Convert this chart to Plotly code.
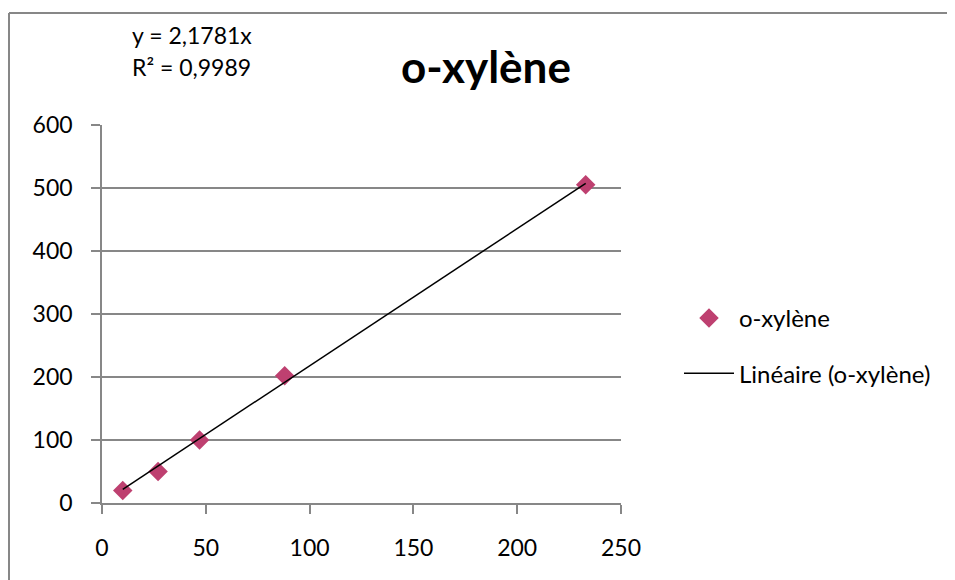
import plotly.graph_objects as go

# ---- data ----
x_vals = [10, 27, 47, 88, 233]
y_vals = [20, 50, 100, 202, 505]
slope = 2.1781
series_name = "o-xylène"
trend_name = "Linéaire (o-xylène)"
eq_text = "y = 2,1781x"
r2_text = "R² = 0,9989"
x_ticks = [0, 50, 100, 150, 200, 250]
y_ticks = [0, 100, 200, 300, 400, 500, 600]

# ---- layout geometry (screen pixels; page body adds an 8px offset) ----
OFF = 8
W, H = 955 - OFF, 580 - OFF
L, R, T, B = 102, 621, 125, 503


def px(x):
    return (x - L) / (R - L)


def py(y):
    return (B - y) / (B - T)


fit_x = [min(x_vals), max(x_vals)]
fit_y = [slope * v for v in fit_x]

FONT = "Lato"
GRAY = "#878787"

fig = go.Figure()
fig.add_trace(go.Scatter(
    x=x_vals, y=y_vals, mode="markers", name=series_name,
    marker=dict(symbol="diamond", size=15, color="#BE4070"),
    legendgroup="a",
))
fig.add_trace(go.Scatter(
    x=fit_x, y=fit_y, mode="lines", name=trend_name,
    line=dict(color="black", width=1.5),
    legendgroup="b",
))

border = dict(color=GRAY, width=2)
fig.update_layout(
    width=W, height=H,
    margin=dict(l=L - OFF, r=W - (R - OFF), t=T - OFF, b=H - (B - OFF), pad=0),
    paper_bgcolor="white", plot_bgcolor="white",
    font=dict(family=FONT, size=23, color="black"),
    showlegend=True,
    legend=dict(
        x=px(679), y=py(296), xanchor="left", yanchor="top",
        traceorder="grouped", tracegroupgap=21, itemwidth=50,
        font=dict(family=FONT, size=24, color="black"),
        bgcolor="rgba(0,0,0,0)",
    ),
    xaxis=dict(
        range=[0, 250], tickvals=x_ticks, showgrid=False, zeroline=False,
        showline=True, linecolor=GRAY, linewidth=1.5,
        ticks="outside", ticklen=9, tickcolor=GRAY, tickwidth=1.5,
        ticklabelstandoff=15, tickfont=dict(family=FONT, size=23),
    ),
    yaxis=dict(
        range=[0, 600], tickvals=y_ticks, showgrid=True, gridcolor=GRAY,
        gridwidth=1.5, zeroline=False,
        showline=True, linecolor=GRAY, linewidth=1.5,
        ticks="outside", ticklen=9, tickcolor=GRAY, tickwidth=1.5,
        ticklabelstandoff=14, tickfont=dict(family=FONT, size=23),
    ),
    shapes=[
        dict(type="line", xref="paper", yref="paper",
             x0=px(OFF + 1), x1=px(980), y0=py(13), y1=py(13), line=border),
        dict(type="line", xref="paper", yref="paper",
             x0=px(OFF + 1), x1=px(OFF + 1), y0=py(13), y1=py(600), line=border),
    ],
    annotations=[
        dict(text=eq_text, xref="paper", yref="paper", x=px(130), y=py(35),
             xanchor="left", yanchor="middle", showarrow=False,
             font=dict(family=FONT, size=23)),
        dict(text=r2_text, xref="paper", yref="paper", x=px(130), y=py(67),
             xanchor="left", yanchor="middle", showarrow=False,
             font=dict(family=FONT, size=23)),
        dict(text="<b>o-xylène</b>", xref="paper", yref="paper", x=px(486), y=py(66),
             xanchor="center", yanchor="middle", showarrow=False,
             font=dict(family=FONT, size=44)),
    ],
)

fig.write_html(
    "out.html",
    post_script="document.documentElement.style.overflow='hidden';",
)
